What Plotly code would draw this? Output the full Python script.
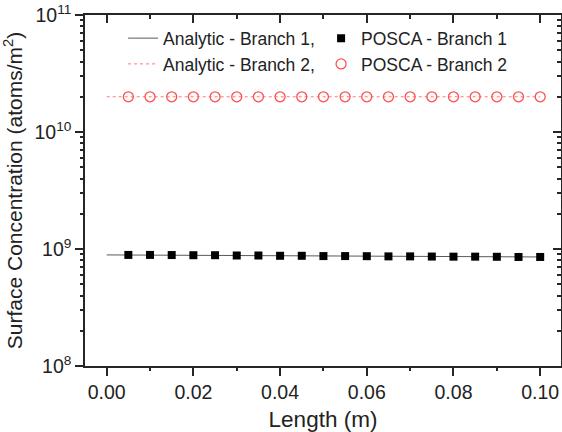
import plotly.graph_objects as go

# Data
x_analytic = [0.0, 0.1]
analytic_b1 = [8.9e8, 8.55e8]
analytic_b2 = [2.0e10, 2.0e10]

x_posca = [0.005, 0.010, 0.015, 0.020, 0.025, 0.030, 0.035, 0.040, 0.045, 0.050,
           0.055, 0.060, 0.065, 0.070, 0.075, 0.080, 0.085, 0.090, 0.095, 0.100]
posca_b1 = [8.9e8, 8.9e8, 8.88e8, 8.85e8, 8.85e8, 8.8e8, 8.8e8, 8.75e8, 8.75e8, 8.7e8,
            8.7e8, 8.68e8, 8.65e8, 8.65e8, 8.62e8, 8.6e8, 8.6e8, 8.58e8, 8.55e8, 8.55e8]
posca_b2 = [2.0e10] * 20

y_major_ticks = [1e8, 1e9, 1e10, 1e11]
y_major_text = ["10<sup>8</sup>", "10<sup>9</sup>", "10<sup>10</sup>", "10<sup>11</sup>"]
y_minor_ticks = [m * 10 ** e for e in (8, 9, 10) for m in range(2, 10)]

FONT = "Liberation Sans, Arial, sans-serif"
RED = "rgb(255,80,80)"
AX = "#262626"
TXT = "#222"

fig = go.Figure()
fig.add_trace(go.Scatter(x=x_analytic, y=analytic_b1, mode="lines",
                         line=dict(color="rgb(90,90,90)", width=1),
                         name="Analytic - Branch 1,"))
fig.add_trace(go.Scatter(x=x_posca, y=posca_b1, mode="markers",
                         marker=dict(symbol="square", size=8, color="black"),
                         name="POSCA - Branch 1"))
fig.add_trace(go.Scatter(x=x_analytic, y=analytic_b2, mode="lines",
                         line=dict(color="rgb(255,120,120)", width=1, dash="dot"),
                         name="Analytic - Branch 2,"))
fig.add_trace(go.Scatter(x=x_posca, y=posca_b2, mode="markers",
                         marker=dict(symbol="circle-open", size=10, color=RED,
                                     line=dict(width=1.3, color=RED)),
                         name="POSCA - Branch 2"))
# helper traces that activate the tick-only axes
for n in (2, 3, 4):
    fig.add_trace(go.Scatter(x=x_analytic, y=analytic_b1, xaxis=f"x{n}", yaxis=f"y{n}",
                             mode="lines", line=dict(width=0.1, color="rgba(255,255,255,0)"),
                             showlegend=False, hoverinfo="skip"))

xr = [-0.005, 0.1048]
yr = [8, 11]

base = dict(showgrid=False, zeroline=False, tickcolor=AX)

fig.update_layout(
    width=562, height=432,
    margin=dict(l=85, r=1, t=15, b=66, autoexpand=False),
    paper_bgcolor="white", plot_bgcolor="white",
    font=dict(family=FONT, color=TXT, size=17),
    showlegend=True,
    legend=dict(orientation="h", x=0.08, y=0.985, xanchor="left", yanchor="top",
                entrywidth=153, entrywidthmode="pixels",
                font=dict(size=17.5, family=FONT, color=TXT),
                bgcolor="rgba(0,0,0,0)"),
    xaxis=dict(range=xr, showline=True, linecolor=AX, linewidth=1.5,
               ticks="outside", ticklen=8, tickwidth=2,
               dtick=0.02, tick0=0, tickformat=".2f",
               tickfont=dict(size=19.5, family=FONT, color=TXT),
               title=dict(text="Length (m)", font=dict(size=22.5, family=FONT, color=TXT)),
               **base),
    yaxis=dict(type="log", range=yr, showline=True, linecolor=AX, linewidth=1.5,
               ticks="outside", ticklen=8, tickwidth=2,
               tickmode="array", tickvals=y_major_ticks, ticktext=y_major_text,
               tickfont=dict(size=19.5, family=FONT, color=TXT),
               title=dict(text="Surface Concentration (atoms/m<sup>2</sup>)",
                          font=dict(size=21, family=FONT, color=TXT)),
               **base),
    xaxis2=dict(range=xr, overlaying="x", side="top", showline=True, linecolor=AX,
                linewidth=1.5, ticks="inside", ticklen=8, tickwidth=2,
                dtick=0.02, tick0=0, showticklabels=False, **base),
    yaxis2=dict(type="log", range=yr, overlaying="y", side="right", showline=True,
                linecolor=AX, linewidth=1.5, ticks="inside", ticklen=8, tickwidth=2,
                tickmode="array", tickvals=y_major_ticks, showticklabels=False, **base),
    xaxis3=dict(range=xr, overlaying="x", side="bottom", showline=False,
                ticks="outside", ticklen=4, tickwidth=2,
                dtick=0.02, tick0=0.01, showticklabels=False, **base),
    yaxis3=dict(type="log", range=yr, overlaying="y", side="left", showline=False,
                ticks="outside", ticklen=4, tickwidth=2,
                tickmode="array", tickvals=y_minor_ticks, showticklabels=False, **base),
    xaxis4=dict(range=xr, overlaying="x", side="top", showline=False,
                ticks="inside", ticklen=4, tickwidth=2,
                dtick=0.02, tick0=0.01, showticklabels=False, **base),
    yaxis4=dict(type="log", range=yr, overlaying="y", side="right", showline=False,
                ticks="inside", ticklen=4, tickwidth=2,
                tickmode="array", tickvals=y_minor_ticks, showticklabels=False, **base),
)

fig.write_html("out.html")
